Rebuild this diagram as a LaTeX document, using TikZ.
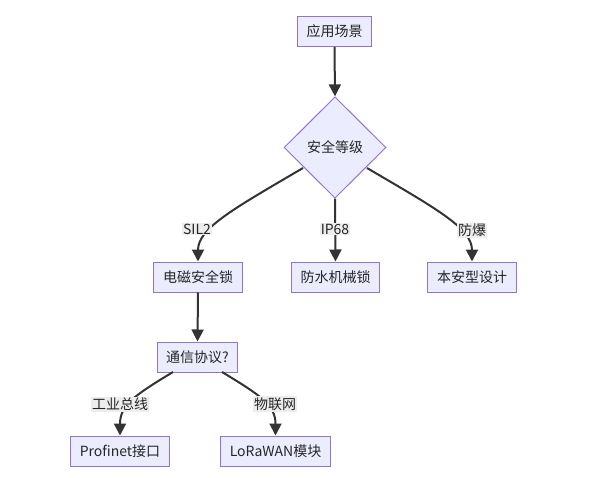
\documentclass[tikz,border=0pt]{standalone}
\usepackage{fontspec}
\newfontfamily\cjk{Noto Sans CJK SC}
\usetikzlibrary{shapes.geometric,arrows.meta}
\definecolor{nodefill}{HTML}{ECECFF}
\definecolor{nodeline}{HTML}{9370DB}
\definecolor{edgecol}{HTML}{333333}
\definecolor{labelbg}{HTML}{EDEDED}
\begin{document}
\begin{tikzpicture}[x=0.75pt,y=-0.75pt,
  box/.style={draw=nodeline,fill=nodefill,line width=0.75pt,font=\cjk\fontsize{10.5pt}{12pt}\selectfont,
    text=black!85,inner xsep=6.8pt,inner ysep=0pt,minimum height=22.5pt},
  decision/.style={diamond,draw=nodeline,fill=nodefill,line width=0.75pt,font=\cjk\fontsize{10.5pt}{12pt}\selectfont,
    text=black!85,inner sep=0pt,minimum width=76.5pt,minimum height=76pt},
  edge/.style={draw=edgecol,line width=1.5pt,-{Triangle[length=9pt,width=9pt]}},
  elabel/.style={fill=labelbg,font=\cjk\fontsize{10.5pt}{12pt}\selectfont,text=black!85,inner sep=0.8pt}
]
\useasboundingbox (0,0) rectangle (600,478);
\node[box] (a) at (334.5,31.5) {应用场景};
\node[decision] (b) at (335,147.5) {安全等级};
\node[box] (c) at (198,277) {电磁安全锁};
\node[box] (d) at (335.5,277) {防水机械锁};
\node[box] (e) at (472,277) {本安型设计};
\node[box] (f) at (197.5,357) {通信协议?};
\node[box] (g) at (120,451) {Profinet接口};
\node[box] (h) at (275.5,451) {LoRaWAN模块};

\coordinate (bl) at (303,168);
\coordinate (br) at (367,168);
\coordinate (fl) at (173,372);
\coordinate (fr) at (222,372);

\draw[edge] (a.south) -- (b.north);
\draw[edge] (bl) .. controls (235,208) and (198,228) .. (c.north);
\draw[edge] (b.south) -- (d.north);
\draw[edge] (br) .. controls (435,208) and (472,228) .. (e.north);
\draw[edge] (c.south) -- (f.north);
\draw[edge] (fl) .. controls (135,395) and (120,405) .. (g.north);
\draw[edge] (fr) .. controls (260,395) and (275.5,405) .. (h.north);

\node[elabel] (l1) at (197,229) {SIL2};
\node[elabel] (l2) at (335,229) {IP68};
\node[elabel] (l3) at (472,230) {防爆};
\node[elabel] (l4) at (120,404) {工业总线};
\node[elabel] (l5) at (275,404) {物联网};
\end{tikzpicture}
\end{document}
